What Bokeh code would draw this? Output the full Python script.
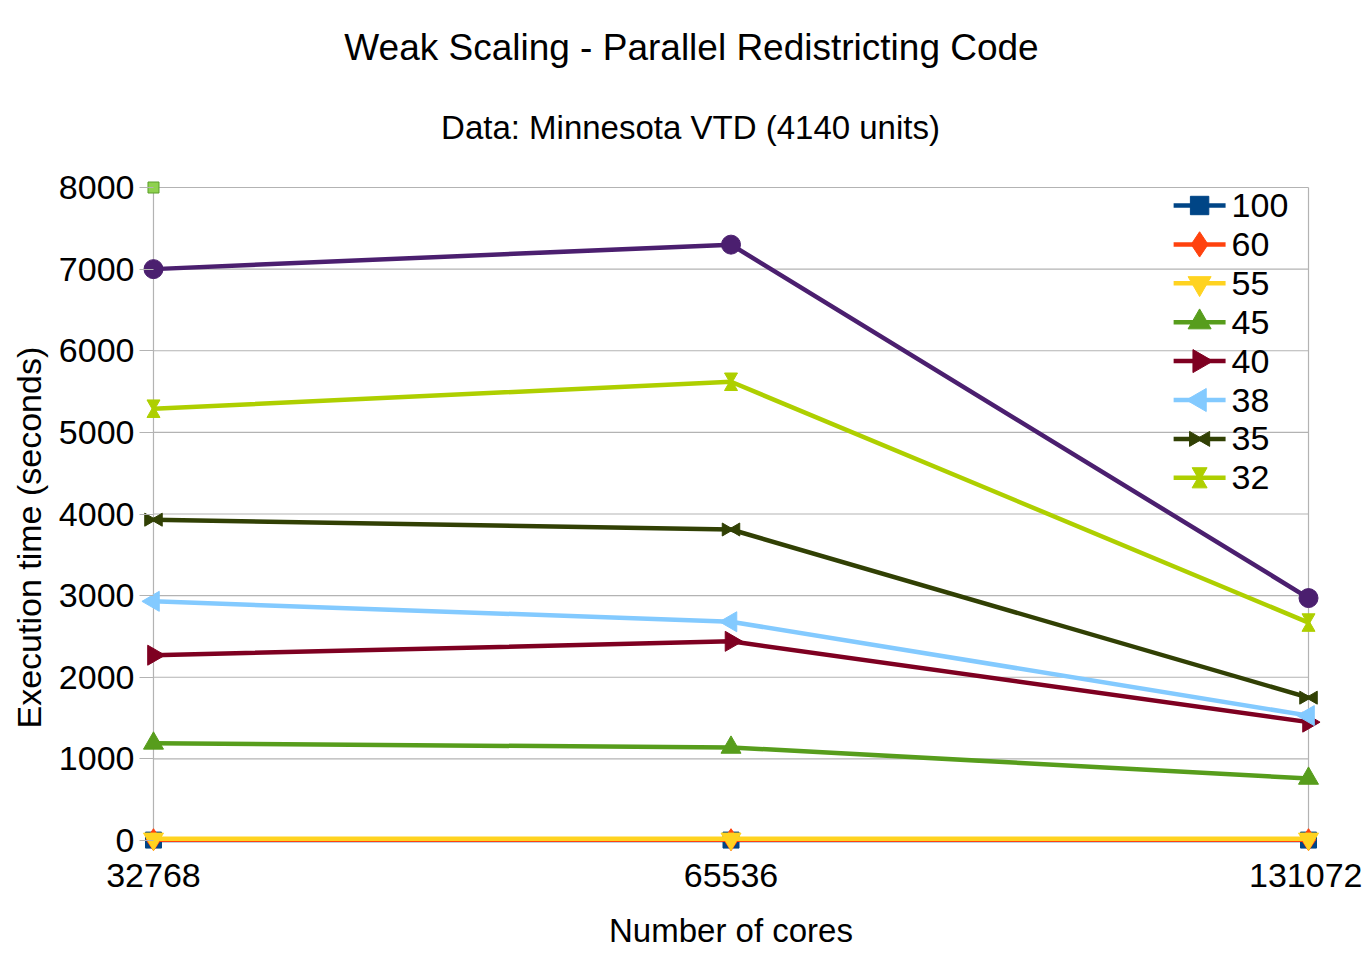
import math
from bokeh.plotting import figure
from bokeh.models import Range1d, FixedTicker, Label, Title
from bokeh.core.properties import value
from bokeh.embed import file_html
from bokeh.resources import INLINE

# ---------------- data ----------------
cores = ["32768", "65536", "131072"]
y_ticks = [0, 1000, 2000, 3000, 4000, 5000, 6000, 7000, 8000]

t100 = [5, 5, 5]
t60 = [10, 10, 10]
t55 = [20, 20, 20]
t45 = [1190, 1140, 760]
t40 = [2270, 2440, 1450]
t38 = [2930, 2680, 1530]
t35 = [3930, 3810, 1750]
t32 = [5290, 5620, 2670]
t30 = [7000, 7300, 2970]          # purple series (legend entry cut off)
extra_x = ["32768"]
extra_y = [8000]

legend_labels = ["100", "60", "55", "45", "40", "38", "35", "32"]

title_text = "Weak Scaling - Parallel Redistricting Code"
subtitle_text = "Data: Minnesota VTD (4140 units)"
x_label = "Number of cores"
y_label = "Execution time (seconds)"

# ---------------- layout ----------------
FONT = "Liberation Sans"
xs = list(range(len(cores)))
x_max = xs[-1]
y_max = y_ticks[-1]
# page geometry of the chart wall
L, R, T, B = 152, 1308, 187, 840
PX_X = x_max / float(R - L)
PX_Y = y_max / float(B - T)
PAD = 14
W, H = 1362, 953

# the frame reaches the top of the canvas so the titles can live inside it
p = figure(width=W, height=H, output_backend="svg", toolbar_location=None,
           x_range=Range1d(-PAD * PX_X, x_max + PAD * PX_X),
           y_range=Range1d(-PAD * PX_Y, B * PX_Y),
           min_border_left=L - PAD, min_border_right=W - (R + PAD),
           min_border_top=0, min_border_bottom=H - (B + PAD))
p.outline_line_color = None
p.grid.visible = False
p.background_fill_color = "white"
p.border_fill_color = "white"

def dx(px):  # page x -> data x
    return (px - L) * PX_X

def dy(py):  # page y -> data y
    return (B - py) * PX_Y

GRID = "#b3b3b3"
p.segment(x0=[0] * len(y_ticks), x1=[x_max] * len(y_ticks), y0=y_ticks, y1=y_ticks,
          line_color=GRID, line_width=1.2)
p.segment(x0=[0, x_max], x1=[0, x_max], y0=[0, 0], y1=[y_max, y_max],
          line_color=GRID, line_width=1.2)

# axes
p.xaxis.ticker = FixedTicker(ticks=xs)
p.xaxis.major_label_overrides = {i: c for i, c in enumerate(cores)}
p.xaxis.axis_line_color = None
p.xaxis.major_tick_line_color = None
p.xaxis.minor_tick_line_color = None
p.xaxis.major_label_standoff = 3
p.xaxis.axis_label = x_label
p.xaxis.axis_label_standoff = 22

p.yaxis.ticker = FixedTicker(ticks=y_ticks)
p.yaxis.axis_line_color = None
p.yaxis.major_tick_in = PAD
p.yaxis.major_tick_out = 0
p.yaxis.major_tick_line_color = GRID
p.yaxis.major_tick_line_width = 1.2
p.yaxis.minor_tick_line_color = None
p.yaxis.major_label_standoff = 5

for ax in (p.xaxis[0], p.yaxis[0]):
    ax.major_label_text_font = FONT
    ax.major_label_text_font_size = "34px"
    ax.major_label_text_color = "black"
    ax.axis_label_text_font = FONT
    ax.axis_label_text_font_size = "33px"
    ax.axis_label_text_font_style = "normal"
    ax.axis_label_text_color = "black"

# y-axis title as a left-side Title so it can be placed along the wall
FB = B + PAD
p.add_layout(Title(text=y_label, align="left", offset=FB - 728, standoff=15,
                   text_font=FONT, text_font_size="34px", text_font_style="normal",
                   text_color="black"), "left")

LW = 4.5
off_x = 5 * PX_X
off_y = 5 * PX_Y

# marker specs: list of (marker, size, angle, x-offset, y-offset)
SQUARE = [("square", 16, 0.0, 0, 0)]
DIAMOND = [("diamond", 22, 0.0, 0, 0)]
DOWN = [("inverted_triangle", 20, 0.0, 0, 0)]
UP = [("triangle", 20, 0.0, 0, 0)]
RIGHT = [("triangle", 20, -math.pi / 2, 0, 0)]
LEFT = [("triangle", 20, math.pi / 2, 0, 0)]
BOWTIE = [("triangle", 13, -math.pi / 2, -off_x, 0), ("triangle", 13, math.pi / 2, off_x, 0)]
HOURGLASS = [("inverted_triangle", 13, 0.0, 0, off_y), ("triangle", 13, 0.0, 0, -off_y)]
CIRCLE = [("circle", 19, 0.0, 0, 0)]

series = [
    ("100", t100, "#004586", SQUARE),
    ("60", t60, "#ff420e", DIAMOND),
    ("55", t55, "#ffd320", DOWN),
    ("45", t45, "#579d1c", UP),
    ("40", t40, "#7e0021", RIGHT),
    ("38", t38, "#83caff", LEFT),
    ("35", t35, "#314004", BOWTIE),
    ("32", t32, "#aecf00", HOURGLASS),
    (None, t30, "#4b1f6f", CIRCLE),
]

def draw_markers(xv, yv, color, spec, scale=1.0):
    for marker, size, angle, ox, oy in spec:
        p.scatter([v + ox * scale for v in xv], [v + oy * scale for v in yv], marker=marker,
                  size=size * scale, angle=angle, fill_color=color, line_color=color)

for label, ys, color, spec in series:
    p.line(xs, ys, line_color=color, line_width=LW)
    draw_markers(xs, ys, color, spec)

p.scatter([cores.index(c) for c in extra_x], extra_y, marker="square", size=11,
          fill_color="#8fd14f", line_color="#5a9e2a", line_width=1)

# legend (drawn manually so rotated markers keep their orientation)
LEG_Y0, LEG_DY = 205, 38.9
for i, lab in enumerate(legend_labels):
    _, _, color, spec = series[i]
    yc = dy(LEG_Y0 + i * LEG_DY)
    p.line([dx(1173), dx(1225)], [yc, yc], line_color=color, line_width=LW)
    draw_markers([dx(1199)], [yc], color, spec, scale=1.15)
    p.text([dx(1231)], [yc], text=[lab], text_font=value(FONT), text_font_size="34px",
           text_baseline="middle", text_align="left", text_color="black")

# titles (inside the frame; screen units are relative to the frame's bottom-left)
FL = L - PAD
p.add_layout(Label(x=690 - FL, y=FB - 47, x_units="screen", y_units="screen", text=title_text,
                   text_align="center", text_baseline="middle", text_font=FONT,
                   text_font_size="37px", text_color="black"))
p.add_layout(Label(x=689 - FL, y=FB - 127, x_units="screen", y_units="screen", text=subtitle_text,
                   text_align="center", text_baseline="middle", text_font=FONT,
                   text_font_size="33px", text_color="black"))

open("out.html", "w").write(file_html(p, INLINE))
